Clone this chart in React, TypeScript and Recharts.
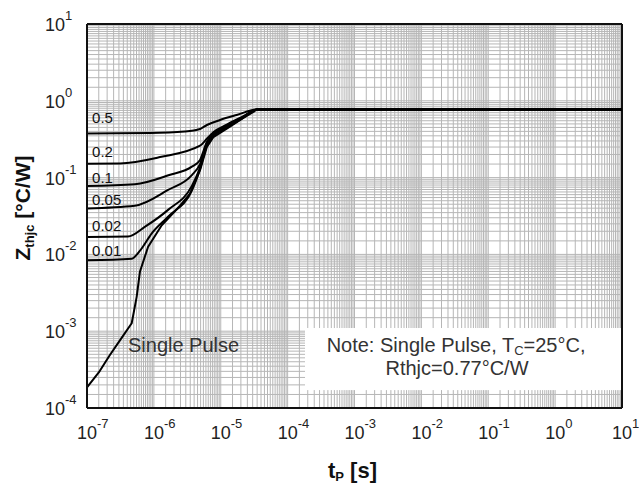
import React from 'react';
import { ComposedChart, Line, XAxis, YAxis, ReferenceLine, Scatter } from 'recharts';

const FONT = '"Liberation Sans", Arial, Helvetica, sans-serif';

const X_TICKS = [1e-7, 1e-6, 1e-5, 1e-4, 1e-3, 1e-2, 1e-1, 1, 10];
const Y_TICKS = [1e-4, 1e-3, 1e-2, 1e-1, 1, 10];
const X_DECADES = [-7, -6, -5, -4, -3, -2, -1, 0];
const Y_DECADES = [-4, -3, -2, -1, 0];
const GRID_MULTIPLIERS = [1, 1.5, 2, 2.5, 3, 3.5, 4, 4.5, 5, 5.5, 6, 6.5, 7, 7.5, 8, 8.5, 9, 9.5];

// Zthjc curves (x = tp [s], y = Zthjc [°C/W])
const D_05 = [
  { x: 1e-7, y: 0.375 }, { x: 8.7e-7, y: 0.38 }, { x: 2.9e-6, y: 0.398 }, { x: 4.9e-6, y: 0.43 },
  { x: 6.2e-6, y: 0.484 }, { x: 9.75e-6, y: 0.562 }, { x: 1.73e-5, y: 0.653 }, { x: 3.5e-5, y: 0.77 },
  { x: 10, y: 0.77 },
];
const D_02 = [
  { x: 1e-7, y: 0.152 }, { x: 3.1e-7, y: 0.153 }, { x: 1.24e-6, y: 0.185 }, { x: 4.9e-6, y: 0.26 },
  { x: 6.2e-6, y: 0.32 }, { x: 7.74e-6, y: 0.39 }, { x: 1.23e-5, y: 0.49 }, { x: 2.15e-5, y: 0.625 },
  { x: 3.5e-5, y: 0.77 }, { x: 10, y: 0.77 },
];
const D_01 = [
  { x: 1e-7, y: 0.0778 }, { x: 5.2e-7, y: 0.082 }, { x: 1.7e-6, y: 0.108 }, { x: 3.7e-6, y: 0.139 },
  { x: 4.9e-6, y: 0.17 }, { x: 6.2e-6, y: 0.29 }, { x: 7.74e-6, y: 0.37 }, { x: 1.23e-5, y: 0.47 },
  { x: 2.15e-5, y: 0.615 }, { x: 3.5e-5, y: 0.77 }, { x: 10, y: 0.77 },
];
const D_005 = [
  { x: 1e-7, y: 0.0397 }, { x: 5.2e-7, y: 0.043 }, { x: 1.63e-6, y: 0.069 }, { x: 3.7e-6, y: 0.108 },
  { x: 4.9e-6, y: 0.15 }, { x: 6.2e-6, y: 0.28 }, { x: 7.74e-6, y: 0.36 }, { x: 1.23e-5, y: 0.46 },
  { x: 2.15e-5, y: 0.61 }, { x: 3.5e-5, y: 0.77 }, { x: 10, y: 0.77 },
];
const D_002 = [
  { x: 1e-7, y: 0.0169 }, { x: 4.1e-7, y: 0.0171 }, { x: 7.4e-7, y: 0.023 }, { x: 1.63e-6, y: 0.038 },
  { x: 3.7e-6, y: 0.078 }, { x: 4.9e-6, y: 0.135 }, { x: 6.2e-6, y: 0.27 }, { x: 7.74e-6, y: 0.35 },
  { x: 1.23e-5, y: 0.45 }, { x: 2.15e-5, y: 0.605 }, { x: 3.5e-5, y: 0.77 }, { x: 10, y: 0.77 },
];
const D_001 = [
  { x: 1e-7, y: 0.0084 }, { x: 4.66e-7, y: 0.0088 }, { x: 6.2e-7, y: 0.0112 }, { x: 9.3e-7, y: 0.0188 },
  { x: 1.63e-6, y: 0.031 }, { x: 3.7e-6, y: 0.068 }, { x: 4.9e-6, y: 0.13 }, { x: 6.2e-6, y: 0.26 },
  { x: 7.74e-6, y: 0.345 }, { x: 1.23e-5, y: 0.445 }, { x: 2.15e-5, y: 0.6 }, { x: 3.5e-5, y: 0.77 },
  { x: 10, y: 0.77 },
];
const SINGLE_PULSE = [
  { x: 1e-7, y: 1.85e-4 }, { x: 1.5e-7, y: 2.9e-4 }, { x: 2.2e-7, y: 4.9e-4 }, { x: 3.2e-7, y: 7.9e-4 },
  { x: 4.66e-7, y: 1.27e-3 }, { x: 5.53e-7, y: 2.8e-3 }, { x: 6.2e-7, y: 6.0e-3 },
  { x: 8.2e-7, y: 1.26e-2 }, { x: 1.31e-6, y: 0.024 }, { x: 2.46e-6, y: 0.043 }, { x: 3.47e-6, y: 0.062 },
  { x: 4.9e-6, y: 0.125 }, { x: 6.2e-6, y: 0.25 }, { x: 7.74e-6, y: 0.335 }, { x: 1.23e-5, y: 0.435 },
  { x: 2.15e-5, y: 0.595 }, { x: 3.5e-5, y: 0.77 }, { x: 10, y: 0.77 },
];
const SERIES = [D_05, D_02, D_01, D_005, D_002, D_001];

const CURVE_LABELS = [
  { x: 1.19e-7, y: 0.514, text: '0.5' },
  { x: 1.19e-7, y: 0.185, text: '0.2' },
  { x: 1.19e-7, y: 0.0851, text: '0.1' },
  { x: 1.19e-7, y: 0.044, text: '0.05' },
  { x: 1.19e-7, y: 0.0199, text: '0.02' },
  { x: 1.19e-7, y: 0.0094, text: '0.01' },
];
const SINGLE_PULSE_LABEL = [{ x: 4.1e-7, y: 5.3e-4, text: 'Single Pulse' }];
const NOTE_LINES = [
  { x: 0.033, y: 5.3e-4, text: 'Note: Single Pulse, T', sub: 'C', after: '=25°C,' },
  { x: 0.0341, y: 2.69e-4, text: 'Rthjc=0.77°C/W', sub: '', after: '' },
];
const NOTE_BOX = { x1: 1.82e-4, x2: 10, y1: 1.71e-4, y2: 1.1e-3 };

const X_GRID: number[] = [];
X_DECADES.forEach((k) => GRID_MULTIPLIERS.forEach((m) => { const v = m * Math.pow(10, k); if (k !== -7 || m !== 1) X_GRID.push(v); }));
const Y_GRID: number[] = [];
Y_DECADES.forEach((k) => GRID_MULTIPLIERS.forEach((m) => { const v = m * Math.pow(10, k); if (k !== -4 || m !== 1) Y_GRID.push(v); }));

const GRID_COLOR = '#b6b6b6';

const expOf = (v: number) => Math.round(Math.log10(v));

const XTick = (props: any) => {
  const { x, y, payload } = props;
  return (
    <text x={x - 10} y={y + 31} fontSize={18} fill="#222" fontFamily={FONT} textAnchor="start">
      10<tspan dy={-11} fontSize={13}>{String(expOf(payload.value))}</tspan>
    </text>
  );
};

const YTick = (props: any) => {
  const { x, y, payload } = props;
  return (
    <text x={x - 42} y={y + 7} fontSize={18} fill="#222" fontFamily={FONT} textAnchor="start">
      10<tspan dy={-11} fontSize={13}>{String(expOf(payload.value))}</tspan>
    </text>
  );
};

const XTitle = (props: any) => {
  const vb = props.viewBox || { x: 87, y: 408, width: 535, height: 50 };
  const cx = vb.x + vb.width / 2 - 2;
  const cy = vb.y + 70;
  return (
    <text x={cx} y={cy} textAnchor="middle" fontFamily={FONT} fontWeight="bold" fontSize={22} fill="#111">
      t<tspan fontSize={13} dy={3}>P</tspan><tspan dy={-3}> [s]</tspan>
    </text>
  );
};

const YTitle = (props: any) => {
  const vb = props.viewBox || { x: 27, y: 24, width: 60, height: 384 };
  const px = vb.x + 3;
  const py = vb.y + vb.height / 2 - 8;
  return (
    <text x={px} y={py} transform={`rotate(-90, ${px}, ${py})`} textAnchor="middle" fontFamily={FONT} fontWeight="bold" fontSize={21} fill="#111">
      Z<tspan fontSize={13} dy={4}>thjc</tspan><tspan dy={-4}> [°C/W]</tspan>
    </text>
  );
};

const CurveLabel = (props: any) => (
  <text x={props.cx} y={props.cy} fontSize={15} fontFamily={FONT} fill="#111" textAnchor="start">
    {props.payload.text}
  </text>
);

const SingleLabel = (props: any) => (
  <text x={props.cx} y={props.cy} fontSize={20} fontFamily={FONT} fill="#333" textAnchor="start">
    {props.payload.text}
  </text>
);

const NoteLabel = (props: any) => (
  <text x={props.cx} y={props.cy} fontSize={20} fontFamily={FONT} fill="#333" textAnchor="middle">
    {props.payload.text}
    {props.payload.sub ? <tspan fontSize={13} dy={3}>{props.payload.sub}</tspan> : null}
    {props.payload.after ? <tspan dy={props.payload.sub ? -3 : 0}>{props.payload.after}</tspan> : null}
  </text>
);

export default function App() {
  return (
    <div style={{ position: 'absolute', left: 0, top: 0, width: 639, height: 488, background: '#fff' }}>
      <ComposedChart width={639} height={488} margin={{ top: 24, right: 17, bottom: 30, left: 27 }}>
        <XAxis
          dataKey="x"
          type="number"
          scale="log"
          domain={[1e-7, 10]}
          allowDataOverflow
          ticks={X_TICKS}
          interval={0}
          tickSize={0}
          tickMargin={0}
          tickLine={false}
          height={50}
          axisLine={{ stroke: '#111', strokeWidth: 2 }}
          tick={XTick}
          label={XTitle}
        />
        <YAxis
          dataKey="y"
          type="number"
          scale="log"
          domain={[1e-4, 10]}
          allowDataOverflow
          ticks={Y_TICKS}
          interval={0}
          tickSize={0}
          tickMargin={0}
          tickLine={false}
          width={60}
          axisLine={{ stroke: '#111', strokeWidth: 2 }}
          tick={YTick}
          label={YTitle}
        />
        {X_GRID.map((v) =>
          v >= NOTE_BOX.x1 ? (
            <React.Fragment key={`xg${v}`}>
              <ReferenceLine segment={[{ x: v, y: 1e-4 }, { x: v, y: NOTE_BOX.y1 }]} stroke={GRID_COLOR} strokeWidth={1} />
              <ReferenceLine segment={[{ x: v, y: NOTE_BOX.y2 }, { x: v, y: 10 }]} stroke={GRID_COLOR} strokeWidth={1} />
            </React.Fragment>
          ) : (
            <ReferenceLine key={`xg${v}`} x={v} stroke={GRID_COLOR} strokeWidth={1} />
          )
        )}
        {Y_GRID.map((v) =>
          v > NOTE_BOX.y1 && v < NOTE_BOX.y2 ? (
            <ReferenceLine key={`yg${v}`} segment={[{ x: 1e-7, y: v }, { x: NOTE_BOX.x1, y: v }]} stroke={GRID_COLOR} strokeWidth={1} />
          ) : (
            <ReferenceLine key={`yg${v}`} y={v} stroke={GRID_COLOR} strokeWidth={1} />
          )
        )}
        <ReferenceLine y={10} stroke="#111" strokeWidth={2} />
        <ReferenceLine x={10} stroke="#111" strokeWidth={2} />
        {SERIES.map((s, i) => (
          <Line
            key={`s${i}`}
            data={s}
            dataKey="y"
            type="monotone"
            stroke="#000"
            strokeWidth={2}
            dot={false}
            activeDot={false}
            isAnimationActive={false}
          />
        ))}
        <Line
          data={SINGLE_PULSE}
          dataKey="y"
          type="linear"
          stroke="#000"
          strokeWidth={2}
          strokeLinejoin="round"
          dot={false}
          activeDot={false}
          isAnimationActive={false}
        />
        <Scatter data={CURVE_LABELS} dataKey="y" shape={CurveLabel} isAnimationActive={false} />
        <Scatter data={SINGLE_PULSE_LABEL} dataKey="y" shape={SingleLabel} isAnimationActive={false} />
        <Scatter data={NOTE_LINES} dataKey="y" shape={NoteLabel} isAnimationActive={false} />
      </ComposedChart>
    </div>
  );
}
